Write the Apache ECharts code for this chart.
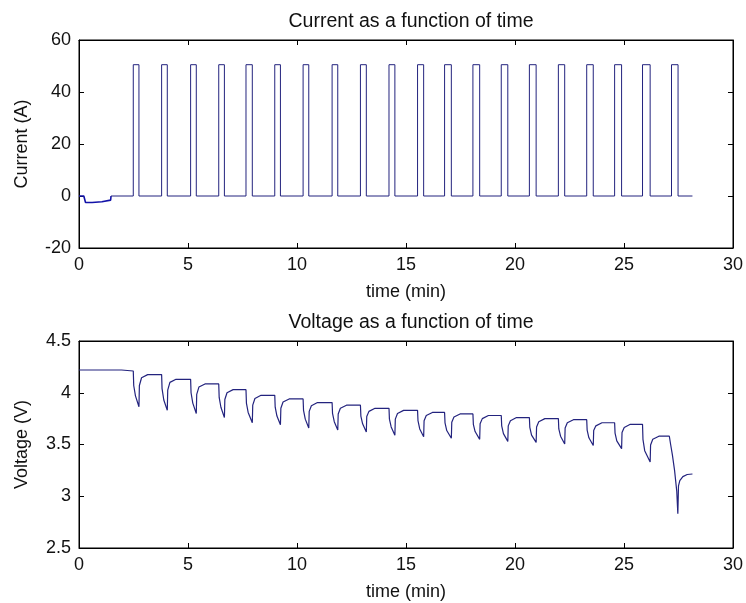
<!DOCTYPE html>
<html>
<head>
<meta charset="utf-8">
<script src="https://cdn.jsdelivr.net/npm/echarts@6/dist/echarts.min.js"></script>
<style>
  html, body { margin: 0; padding: 0; background: #fff; }
  #chart { width: 746px; height: 603px; }
</style>
</head>
<body>
<div id="chart"></div>
<script>
// current: small negative rest period, then 20 discharge pulses
const restCurrent = [[0, 0], [0.22, 0], [0.3, -2.5], [0.6, -2.5], [0.62, -2.2], [1.05, -2.2],
  [1.1, -1.6], [1.45, -1.6], [1.47, 0]]
const pulseOn = [2.49, 3.79, 5.12, 6.41, 7.66, 8.98, 10.28, 11.61, 12.91, 14.22,
  15.53, 16.77, 18.07, 19.37, 20.66, 21.99, 23.29, 24.57, 25.85, 27.18]
const pulseOff = [2.75, 4.05, 5.38, 6.67, 7.95, 9.24, 10.54, 11.87, 13.18, 14.49,
  15.81, 17.08, 18.38, 19.67, 20.97, 22.28, 23.59, 24.89, 26.2, 27.48]
const pulseLevel = 50.5
const endTime = 28.14

// voltage readings (time in min, volts)
const voltage = [
  [0, 4.22], [1.95, 4.22], [2.0, 4.21],
  [2.49, 4.21], [2.51, 4.07], [2.59, 3.97], [2.75, 3.865], [2.77, 4.07], [2.87, 4.145], [3.15, 4.175],
  [3.79, 4.175], [3.81, 4.04], [3.89, 3.93], [4.05, 3.83], [4.07, 4.025], [4.17, 4.10], [4.45, 4.13],
  [5.12, 4.13], [5.14, 4.0], [5.22, 3.90], [5.38, 3.80], [5.40, 3.985], [5.50, 4.055], [5.78, 4.085],
  [6.41, 4.085], [6.43, 3.955], [6.51, 3.86], [6.67, 3.76], [6.69, 3.935], [6.79, 4.0], [7.07, 4.03],
  [7.66, 4.03], [7.68, 3.90], [7.76, 3.81], [7.95, 3.71], [7.97, 3.88], [8.07, 3.945], [8.35, 3.975],
  [8.98, 3.975], [9.0, 3.86], [9.08, 3.775], [9.24, 3.69], [9.26, 3.85], [9.36, 3.91], [9.64, 3.94],
  [10.28, 3.94], [10.30, 3.83], [10.38, 3.745], [10.54, 3.66], [10.56, 3.82], [10.66, 3.875], [10.94, 3.905],
  [11.61, 3.905], [11.63, 3.80], [11.71, 3.72], [11.87, 3.64], [11.89, 3.795], [11.99, 3.85], [12.27, 3.88],
  [12.91, 3.88], [12.93, 3.775], [13.01, 3.70], [13.18, 3.62], [13.20, 3.77], [13.30, 3.82], [13.58, 3.85],
  [14.22, 3.85], [14.24, 3.745], [14.32, 3.67], [14.49, 3.59], [14.51, 3.745], [14.61, 3.80], [14.89, 3.83],
  [15.53, 3.83], [15.55, 3.73], [15.63, 3.65], [15.81, 3.575], [15.83, 3.73], [15.93, 3.78], [16.21, 3.81],
  [16.77, 3.81], [16.79, 3.71], [16.87, 3.635], [17.08, 3.56], [17.10, 3.715], [17.20, 3.765], [17.48, 3.795],
  [18.07, 3.795], [18.09, 3.695], [18.17, 3.625], [18.38, 3.55], [18.40, 3.70], [18.50, 3.75], [18.78, 3.78],
  [19.37, 3.78], [19.39, 3.68], [19.47, 3.605], [19.67, 3.53], [19.69, 3.68], [19.79, 3.73], [20.07, 3.76],
  [20.66, 3.76], [20.68, 3.665], [20.76, 3.59], [20.97, 3.52], [20.99, 3.67], [21.09, 3.72], [21.37, 3.75],
  [21.99, 3.75], [22.01, 3.65], [22.09, 3.58], [22.28, 3.505], [22.30, 3.66], [22.40, 3.71], [22.68, 3.74],
  [23.29, 3.74], [23.31, 3.64], [23.39, 3.565], [23.59, 3.49], [23.61, 3.635], [23.71, 3.68], [23.99, 3.71],
  [24.57, 3.71], [24.59, 3.61], [24.67, 3.535], [24.89, 3.46], [24.91, 3.615], [25.01, 3.665], [25.29, 3.695],
  [25.85, 3.695], [25.87, 3.55], [25.95, 3.44], [26.20, 3.33], [26.22, 3.495], [26.32, 3.55], [26.6, 3.58],
  [27.08, 3.58], [27.14, 3.50], [27.22, 3.40], [27.32, 3.25], [27.42, 3.05], [27.47, 2.83],
  [27.50, 3.10], [27.56, 3.15], [27.7, 3.19], [27.9, 3.21], [28.14, 3.215]
]

// step data for the pulses
let pulseData = [[1.47, 0]]
pulseOn.forEach((t, i) => {
  pulseData.push([t, pulseLevel])
  pulseData.push([pulseOff[i], 0])
})
pulseData.push([endTime, 0])

const font = 'Liberation Sans, Arial, sans-serif'
const textColor = '#111'
const lineColor = '#23237e'

function xAxisOf (grid, top) {
  return {
    type: 'value', gridIndex: grid, position: top ? 'top' : 'bottom',
    min: 0, max: 30, interval: 5,
    name: top ? '' : 'time (min)', nameLocation: 'middle', nameGap: 35,
    nameTextStyle: { fontFamily: font, fontSize: 18, color: textColor },
    axisLine: { show: true, onZero: false, lineStyle: { color: '#000', width: 1 } },
    axisTick: { show: true, inside: true, length: 5, lineStyle: { color: '#000' } },
    axisLabel: { show: !top, margin: 8, fontFamily: font, fontSize: 18, color: textColor },
    splitLine: { show: false }
  }
}

function yAxisOf (grid, right, min, max, interval, name) {
  return {
    type: 'value', gridIndex: grid, position: right ? 'right' : 'left',
    min: min, max: max, interval: interval,
    name: right ? '' : name, nameLocation: 'middle', nameGap: 48,
    nameTextStyle: { fontFamily: font, fontSize: 18, color: textColor },
    axisLine: { show: true, onZero: false, lineStyle: { color: '#000', width: 1 } },
    axisTick: { show: true, inside: true, length: 5, lineStyle: { color: '#000' } },
    axisLabel: { show: !right, margin: 8, fontFamily: font, fontSize: 18, color: textColor },
    splitLine: { show: false }
  }
}

const myChart = echarts.init(document.getElementById('chart'))
myChart.setOption({
  animation: false,
  backgroundColor: '#fff',
  title: [
    {
      text: 'Current as a function of time', left: 406, top: 7, textAlign: 'center',
      textStyle: { fontFamily: font, fontSize: 19.5, fontWeight: 'normal', color: textColor }
    },
    {
      text: 'Voltage as a function of time', left: 406, top: 308, textAlign: 'center',
      textStyle: { fontFamily: font, fontSize: 19.5, fontWeight: 'normal', color: textColor }
    }
  ],
  grid: [
    { left: 79, right: 13, top: 40, height: 208, show: true, borderColor: '#000', borderWidth: 1 },
    { left: 79, right: 13, top: 341, height: 207, show: true, borderColor: '#000', borderWidth: 1 }
  ],
  xAxis: [xAxisOf(0, false), xAxisOf(0, true), xAxisOf(1, false), xAxisOf(1, true)],
  yAxis: [
    yAxisOf(0, false, -20, 60, 20, 'Current (A)'),
    yAxisOf(0, true, -20, 60, 20),
    yAxisOf(1, false, 2.5, 4.5, 0.5, 'Voltage (V)'),
    yAxisOf(1, true, 2.5, 4.5, 0.5)
  ],
  series: [
    {
      name: 'rest', type: 'line', xAxisIndex: 0, yAxisIndex: 0,
      data: restCurrent, showSymbol: false, symbol: 'none',
      lineStyle: { color: '#1212a8', width: 1.6 }
    },
    {
      name: 'current', type: 'line', xAxisIndex: 0, yAxisIndex: 0, step: 'end',
      data: pulseData, showSymbol: false, symbol: 'none',
      lineStyle: { color: lineColor, width: 1 }
    },
    {
      name: 'voltage', type: 'line', xAxisIndex: 2, yAxisIndex: 2,
      data: voltage, showSymbol: false, symbol: 'none',
      lineStyle: { color: lineColor, width: 1.2 }
    }
  ]
})
</script>
</body>
</html>
